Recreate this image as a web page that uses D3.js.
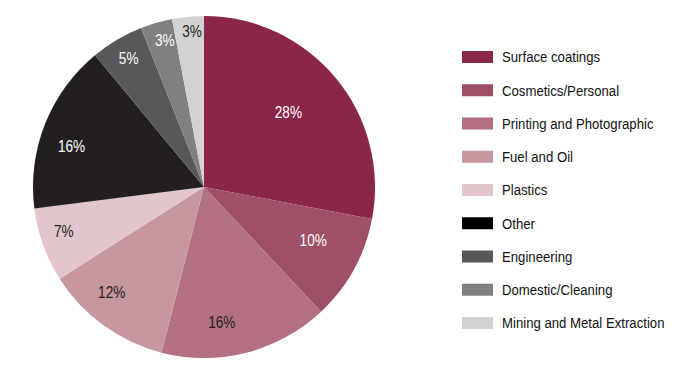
<!DOCTYPE html>
<html><head><meta charset="utf-8">
<script src="https://cdn.jsdelivr.net/npm/d3@7"></script>
<style>body{margin:0;background:#fff}svg{display:block}</style>
</head><body>
<svg id="c" width="700" height="380"></svg>
<script>
const categories = ["Surface coatings","Cosmetics/Personal","Printing and Photographic","Fuel and Oil","Plastics","Other","Engineering","Domestic/Cleaning","Mining and Metal Extraction"];
const values = [28,10,16,12,7,16,5,3,3];
const colors = ["#8b264b","#9e5066","#b37080","#c7979f","#e3c6cb","#231f20","#58585a","#808083","#d1d2d4"];
const legendColors = ["#8b264b","#9e5066","#b37080","#c7979f","#e3c6cb","#000000","#58585a","#808083","#d1d2d4"];
const labelColors = ["#fff","#fff","#231f20","#231f20","#231f20","#fff","#fff","#fff","#231f20"];

const svg = d3.select("#c");
const cx = 204, cy = 187, R = 171;
const FONT = "'Liberation Sans',Arial,sans-serif";
const SX = 0.85;
// label placement: fraction across slice, and fraction of radius
const labelT = [0.48,0.42,0.62,0.62,0.59,0.42,0.51,0.62,0.59];
const labelR = [0.66,0.71,0.80,0.82,0.86,0.81,0.87,0.89,0.91];
const pie = d3.pie().sort(null).value(d=>d)(values);
const arc = d3.arc().innerRadius(0).outerRadius(R);
const g = svg.append("g").attr("transform",`translate(${cx},${cy})`);
g.selectAll("path").data(pie).join("path").attr("d",arc).attr("fill",(d,i)=>colors[i]);
g.selectAll("text").data(pie).join("text")
  .attr("transform",(d,i)=>{const a=d.startAngle+(d.endAngle-d.startAngle)*labelT[i], r=R*labelR[i];return `translate(${Math.sin(a)*r},${-Math.cos(a)*r}) scale(${SX},1)`;})
  .attr("text-anchor","middle").attr("dy","0.35em")
  .attr("font-family",FONT).attr("font-size",16)
  .attr("fill",(d,i)=>labelColors[i])
  .text(d=>d.value+"%");

const y = d3.scalePoint().domain(categories).range([57,323]);
const lg = svg.append("g");
const items = lg.selectAll("g").data(categories).join("g").attr("transform",d=>`translate(462,${y(d)})`);
items.append("rect").attr("x",0).attr("y",-6).attr("width",31).attr("height",12).attr("fill",(d,i)=>legendColors[i]);
items.append("text").attr("transform",`translate(40,0) scale(${SX},1)`).attr("dy","0.35em")
  .attr("font-family",FONT).attr("font-size",15.5)
  .attr("fill","#111").text(d=>d);
</script>
</body></html>
